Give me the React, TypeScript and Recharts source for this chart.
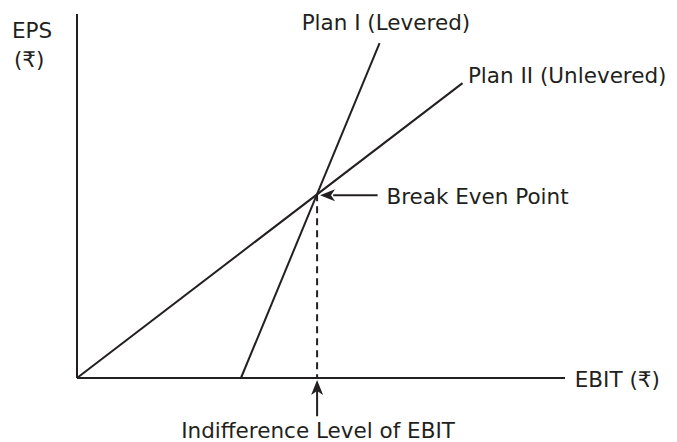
import React from "react";
import { LineChart, Line, XAxis, YAxis, ReferenceLine, ReferenceDot } from "recharts";

// EBIT / EPS are in arbitrary units (no ticks in the original)
const planLevered = [
  { ebit: 33.6, eps: 0 },
  { ebit: 62, eps: 92 },
];
const planUnlevered = [
  { ebit: 0, eps: 0 },
  { ebit: 79, eps: 81 },
];
const breakEven = { ebit: 49.2, eps: 50.5 };

const labels = [
  { text: "Plan I (Levered)", ebit: 63.3, eps: 97.8, anchor: "middle" },
  { text: "Plan II (Unlevered)", ebit: 80.1, eps: 83.2, anchor: "start" },
  { text: "Break Even Point", ebit: 63.4, eps: 50.0, anchor: "start" },
  { text: "EBIT (₹)", ebit: 102, eps: -0.5, anchor: "start" },
  { text: "Indifference Level of EBIT", ebit: 49.4, eps: -14.3, anchor: "middle" },
  { text: "EPS", ebit: -9.2, eps: 95.6, anchor: "middle" },
  { text: "(₹)", ebit: -9.8, eps: 87.4, anchor: "middle" },
];

const INK = "#231f20";
const FONT = "'DejaVu Sans', sans-serif";

const makeText = (text: string, anchor: string) => (props: any) => (
  <text
    x={props.cx}
    y={props.cy}
    textAnchor={anchor}
    dominantBaseline="central"
    fontFamily={FONT}
    fontSize={21.5}
    fill={INK}
  >
    {text}
  </text>
);

const arrowLeft = (props: any) => (
  <polygon
    points={`${props.cx},${props.cy} ${props.cx + 15},${props.cy - 6} ${props.cx + 11},${props.cy} ${props.cx + 15},${props.cy + 6}`}
    fill={INK}
  />
);
const arrowUp = (props: any) => (
  <polygon
    points={`${props.cx},${props.cy} ${props.cx + 6},${props.cy + 15} ${props.cx},${props.cy + 11} ${props.cx - 6},${props.cy + 15}`}
    fill={INK}
  />
);

export default function App() {
  return (
    <div style={{ position: "absolute", left: 0, top: 0, background: "#fff" }}>
      <LineChart
        width={677}
        height={442}
        margin={{ top: 14, left: 77, right: 112, bottom: 64 }}
      >
        <XAxis type="number" dataKey="ebit" domain={[0, 100]} hide />
        <YAxis type="number" dataKey="eps" domain={[0, 100]} hide />
        {/* axes */}
        <ReferenceLine
          segment={[
            { x: 0, y: 0 },
            { x: 100, y: 0 },
          ]}
          stroke={INK}
          strokeWidth={2}
          ifOverflow="visible"
        />
        <ReferenceLine
          segment={[
            { x: 0, y: 0 },
            { x: 0, y: 100 },
          ]}
          stroke={INK}
          strokeWidth={2}
          ifOverflow="visible"
        />
        <Line
          data={planUnlevered}
          dataKey="eps"
          type="linear"
          stroke={INK}
          strokeWidth={2}
          dot={false}
          isAnimationActive={false}
        />
        <Line
          data={planLevered}
          dataKey="eps"
          type="linear"
          stroke={INK}
          strokeWidth={2}
          dot={false}
          isAnimationActive={false}
        />
        <ReferenceLine
          segment={[
            { x: breakEven.ebit, y: breakEven.eps },
            { x: breakEven.ebit, y: 0 },
          ]}
          stroke={INK}
          strokeWidth={2}
          strokeDasharray="7 5"
          ifOverflow="visible"
        />
        <ReferenceLine
          segment={[
            { x: 52.5, y: 50.2 },
            { x: 61.6, y: 50.2 },
          ]}
          stroke={INK}
          strokeWidth={2}
          ifOverflow="visible"
        />
        <ReferenceDot x={49.8} y={50.2} r={1} ifOverflow="visible" shape={arrowLeft} />
        <ReferenceLine
          segment={[
            { x: breakEven.ebit, y: -3.3 },
            { x: breakEven.ebit, y: -10.5 },
          ]}
          stroke={INK}
          strokeWidth={2}
          ifOverflow="visible"
        />
        <ReferenceDot x={breakEven.ebit} y={-0.55} r={1} ifOverflow="visible" shape={arrowUp} />
        {labels.map((l) => (
          <ReferenceDot
            key={l.text}
            x={l.ebit}
            y={l.eps}
            r={1}
            ifOverflow="visible"
            shape={makeText(l.text, l.anchor)}
          />
        ))}
      </LineChart>
    </div>
  );
}
